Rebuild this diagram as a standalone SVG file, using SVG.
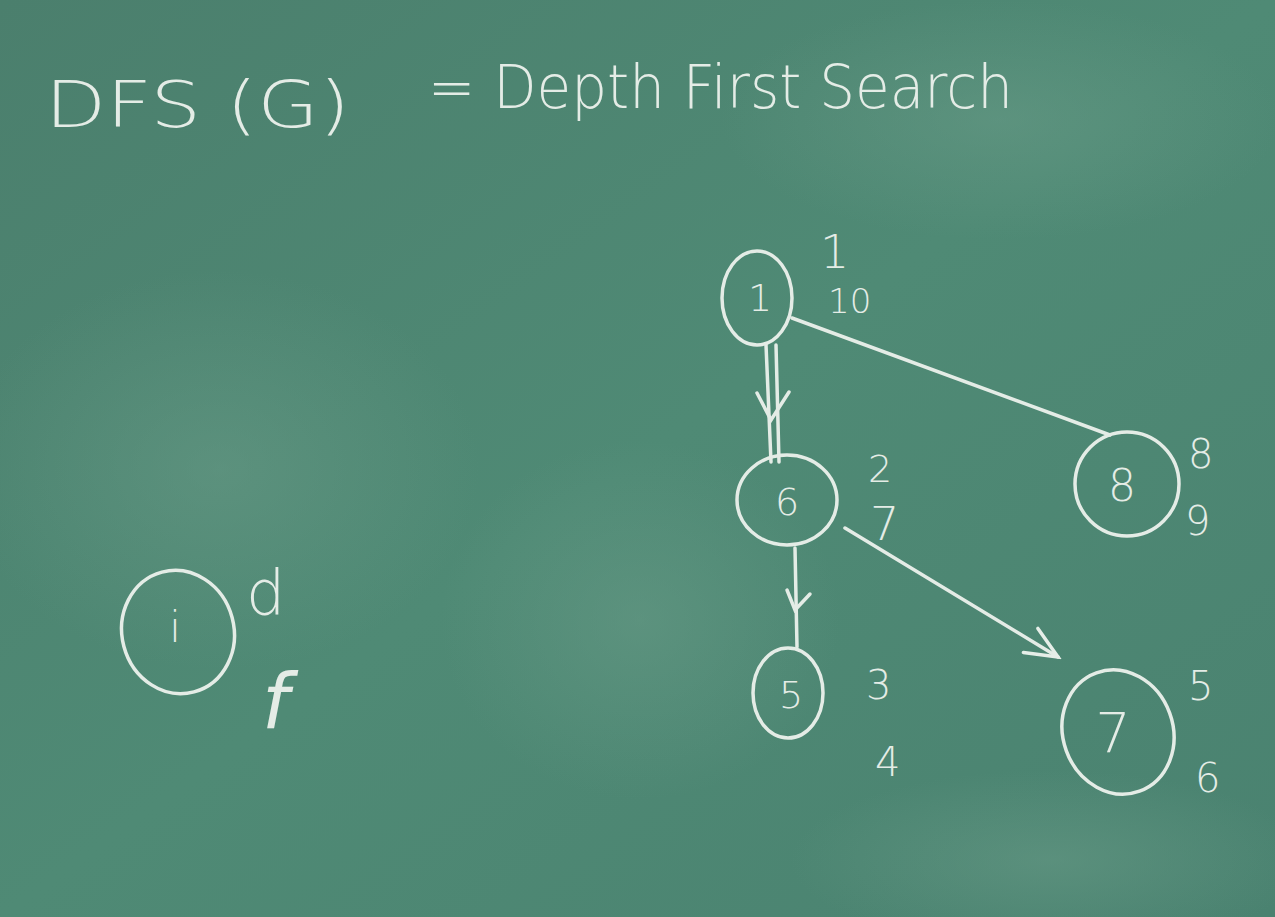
<svg xmlns="http://www.w3.org/2000/svg" width="1275" height="917" viewBox="0 0 1275 917">
<defs>
<linearGradient id="bg" x1="0" y1="0" x2="1" y2="1">
<stop offset="0" stop-color="#4b7f6d"/>
<stop offset="0.5" stop-color="#4f8a75"/>
<stop offset="1" stop-color="#4a8270"/>
</linearGradient>
<radialGradient id="smudge" cx="0.5" cy="0.5" r="0.5">
<stop offset="0" stop-color="#6a9c88" stop-opacity="0.5"/>
<stop offset="1" stop-color="#6a9c88" stop-opacity="0"/>
</radialGradient>
<marker id="head" viewBox="0 0 40 40" refX="36" refY="20" markerWidth="40" markerHeight="40" markerUnits="userSpaceOnUse" orient="auto">
<path d="M4,6 L36,20 L4,34" fill="none" stroke="#e6eee8" stroke-width="3.5" stroke-linecap="round"/>
</marker>
<style>
.chalk{fill:none;stroke:#e4ece6;stroke-width:3.5;stroke-linecap:round}
.t{fill:#e4ece6;font-family:"DejaVu Sans","Liberation Sans",sans-serif;font-weight:200}
.lbl{font-size:40px}
.in{font-size:38px;text-anchor:middle}
</style>
</defs>
<rect width="1275" height="917" fill="url(#bg)"/>
<ellipse cx="220" cy="470" rx="260" ry="200" fill="url(#smudge)"/>
<ellipse cx="1000" cy="120" rx="280" ry="120" fill="url(#smudge)"/>
<ellipse cx="640" cy="620" rx="200" ry="180" fill="url(#smudge)"/>
<ellipse cx="1050" cy="860" rx="260" ry="90" fill="url(#smudge)"/>

<g id="title">
<text class="t" x="45" y="127" style="font-size:64px" textLength="305" lengthAdjust="spacingAndGlyphs">DFS (G)</text>
<text class="t" x="428" y="108" style="font-size:60px" textLength="585" lengthAdjust="spacingAndGlyphs">= Depth First Search</text>
</g>

<g id="connectors">
<line class="chalk" x1="766" y1="345" x2="771" y2="462"/>
<line class="chalk" x1="776" y1="345" x2="779" y2="462"/>
<path class="chalk" d="M757,393 L771,420 L789,392"/>
<line class="chalk" x1="792" y1="318" x2="1110" y2="435"/>
<line class="chalk" x1="795" y1="548" x2="797" y2="647"/>
<path class="chalk" d="M787,590 L795,610 L810,594"/>
<line class="chalk" x1="845" y1="528" x2="1058" y2="657" marker-end="url(#head)"/>
</g>

<g id="node-1">
<ellipse class="chalk" cx="757" cy="298" rx="35" ry="47"/>
<text class="t in" x="760" y="311">1</text>
<text class="t lbl" x="820" y="268" style="font-size:46px">1</text>
<text class="t lbl" x="828" y="313" style="font-size:34px">10</text>
</g>

<g id="node-6">
<ellipse class="chalk" cx="787" cy="500" rx="50" ry="45"/>
<text class="t in" x="787" y="515">6</text>
<text class="t lbl" x="868" y="482" style="font-size:38px">2</text>
<text class="t lbl" x="870" y="540" style="font-size:46px">7</text>
</g>

<g id="node-8">
<ellipse class="chalk" cx="1127" cy="484" rx="52" ry="52"/>
<text class="t in" x="1122" y="501" style="font-size:44px">8</text>
<text class="t lbl" x="1188" y="468">8</text>
<text class="t lbl" x="1185" y="535">9</text>
</g>

<g id="node-5">
<ellipse class="chalk" cx="788" cy="693" rx="35" ry="45"/>
<text class="t in" x="791" y="708">5</text>
<text class="t lbl" x="866" y="699">3</text>
<text class="t lbl" x="875" y="776">4</text>
</g>

<g id="node-7">
<ellipse class="chalk" cx="1118" cy="732" rx="55" ry="63" transform="rotate(-20 1118 732)"/>
<text class="t in" x="1113" y="752" style="font-size:56px">7</text>
<text class="t lbl" x="1188" y="700">5</text>
<text class="t lbl" x="1195" y="792">6</text>
</g>

<g id="node-i">
<ellipse class="chalk" cx="178" cy="632" rx="56" ry="62" transform="rotate(-15 178 632)"/>
<text class="t in" x="175" y="642" style="font-size:42px">i</text>
<text class="t lbl" x="246" y="614" style="font-size:62px">d</text>
<text class="t lbl" x="262" y="728" style="font-size:76px;font-style:italic">f</text>
</g>
</svg>
